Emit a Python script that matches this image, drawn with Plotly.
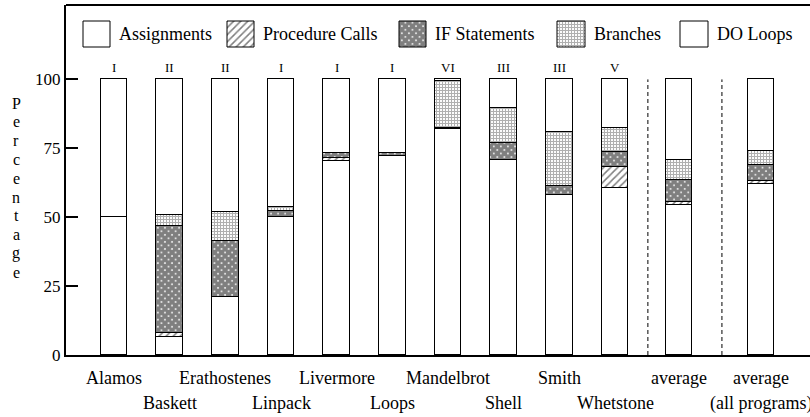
import plotly.graph_objects as go

# ---- data -------------------------------------------------------------
programs = ["Alamos", "Baskett", "Erathostenes", "Linpack", "Livermore",
            "Loops", "Mandelbrot", "Shell", "Smith", "Whetstone",
            "average", "average<br>(all programs)"]
classes = ["I", "II", "II", "I", "I", "I", "VI", "III", "III", "V", "", ""]

assignments = [50.0, 6.6, 21.2, 50.2, 70.4, 72.3, 82.0, 70.8, 58.0, 60.5, 54.4, 62.0]
procedure_calls = [0.0, 1.3, 0.0, 0.0, 1.2, 0.0, 0.0, 0.0, 0.0, 7.8, 1.2, 1.3]
if_statements = [0.0, 38.9, 20.3, 1.9, 1.6, 1.1, 0.5, 6.3, 3.2, 5.2, 7.9, 5.7]
branches = [0.0, 3.9, 10.3, 1.6, 0.0, 0.0, 16.8, 12.6, 19.6, 8.7, 7.3, 5.0]
do_loops = [round(100 - a - p - i - b, 1) for a, p, i, b in
            zip(assignments, procedure_calls, if_statements, branches)]

series_names = ["Assignments", "Procedure Calls", "IF Statements", "Branches", "DO Loops"]
series_values = [assignments, procedure_calls, if_statements, branches, do_loops]
y_ticks = [0, 25, 50, 75, 100]

# ---- styling ----------------------------------------------------------
FONT = "Liberation Serif"
patterns = [
    dict(shape=""),
    dict(shape="/", size=5, solidity=0.3, fgcolor="black", bgcolor="white"),
    dict(shape="x", size=5, solidity=0.9, fgcolor="black", bgcolor="white"),
    dict(shape="+", size=3, solidity=0.6, fgcolor="#606060", bgcolor="white"),
    dict(shape=""),
]

# plot area in pixels (left, top, right, bottom)
PL, PT, PR, PB = 66, 5, 810, 355


def px_x(x):
    return (x - PL) / (PR - PL)


def px_y(y):
    return (PB - y) / (PB - PT)


# bar positions: programs evenly spaced, the two averages set apart
x_pos = list(range(10)) + [10.15, 11.62]
separators = [9.59, 10.92]
BAR_W = 0.48

fig = go.Figure()

for name, vals, pat in zip(series_names, series_values, patterns):
    fig.add_trace(go.Bar(
        x=x_pos, y=vals, name=name, width=BAR_W,
        marker=dict(color="white", pattern=pat,
                    line=dict(color="black", width=1)),
        showlegend=False,
    ))

# legend swatches drawn on a pixel-space overlay axis
legend_boxes = [(83, 110), (227, 254), (399, 426), (557, 585), (680, 708)]
SW_TOP, SW_BOT = 21, 47
for name, pat, (x0, x1) in zip(series_names, patterns, legend_boxes):
    fig.add_trace(go.Scatter(
        x=[x0, x1, x1, x0, x0], y=[SW_TOP, SW_TOP, SW_BOT, SW_BOT, SW_TOP],
        mode="lines", fill="toself", fillcolor="white",
        fillpattern=pat if pat["shape"] else None,
        line=dict(color="black", width=1),
        xaxis="x2", yaxis="y2", showlegend=False, hoverinfo="skip",
    ))
    fig.add_annotation(x=px_x(x1 + 7), y=px_y((SW_TOP + SW_BOT) / 2),
                       xref="paper", yref="paper",
                       text=name, showarrow=False, xanchor="left", yanchor="middle",
                       font=dict(family=FONT, size=18, color="black"))

# program class labels above each bar
for xp, c in zip(x_pos, classes):
    if c:
        fig.add_annotation(x=xp, y=104.2, xref="x", yref="y", text=c,
                           showarrow=False, yanchor="middle",
                           font=dict(family=FONT, size=13, color="black"))

# category labels in two staggered rows
ROW1, ROW2 = 378, 403
for k, (xp, lab) in enumerate(zip(x_pos, programs)):
    lines = lab.split("<br>")
    rows = [ROW1, ROW2] if len(lines) == 2 else [ROW1 if k % 2 == 0 else ROW2]
    for txt, ry in zip(lines, rows):
        fig.add_annotation(x=xp, y=px_y(ry), xref="x", yref="paper", text=txt,
                           showarrow=False, yanchor="middle",
                           font=dict(family=FONT, size=18, color="black"))

# vertical axis title, one letter per line
for k, ch in enumerate("Percentage"):
    fig.add_annotation(x=px_x(16), y=px_y(103 + k * 18.8),
                       xref="paper", yref="paper", text=ch,
                       showarrow=False, xanchor="center", yanchor="middle",
                       font=dict(family=FONT, size=16, color="black"))

# dashed separators before the averages
for sx in separators:
    fig.add_shape(type="line", x0=sx, x1=sx, y0=0, y1=100, xref="x", yref="y",
                  line=dict(color="black", width=1, dash="4px,3px"))

# top frame line
fig.add_shape(type="line", x0=0, x1=1, y0=1, y1=1, xref="paper", yref="paper",
              line=dict(color="black", width=2))

fig.update_layout(
    width=810, height=417,
    margin=dict(l=PL, r=810 - PR, t=PT, b=417 - PB),
    barmode="stack", bargap=0,
    plot_bgcolor="white", paper_bgcolor="white",
    font=dict(family=FONT, color="black"),
    xaxis=dict(range=[-0.862, 12.502], showgrid=False, zeroline=False,
               showticklabels=False, ticks="", showline=True,
               linecolor="black", linewidth=2),
    yaxis=dict(range=[0, 127.0], tickvals=y_ticks, showgrid=False,
               zeroline=False, ticks="inside", ticklen=12, tickwidth=2,
               tickcolor="black", showline=True, linecolor="black",
               linewidth=2, tickfont=dict(family=FONT, size=17, color="black")),
    xaxis2=dict(range=[PL, PR], overlaying="x", visible=False, fixedrange=True),
    yaxis2=dict(range=[PB, PT], overlaying="y", visible=False, fixedrange=True),
)

fig.write_html("out.html")
